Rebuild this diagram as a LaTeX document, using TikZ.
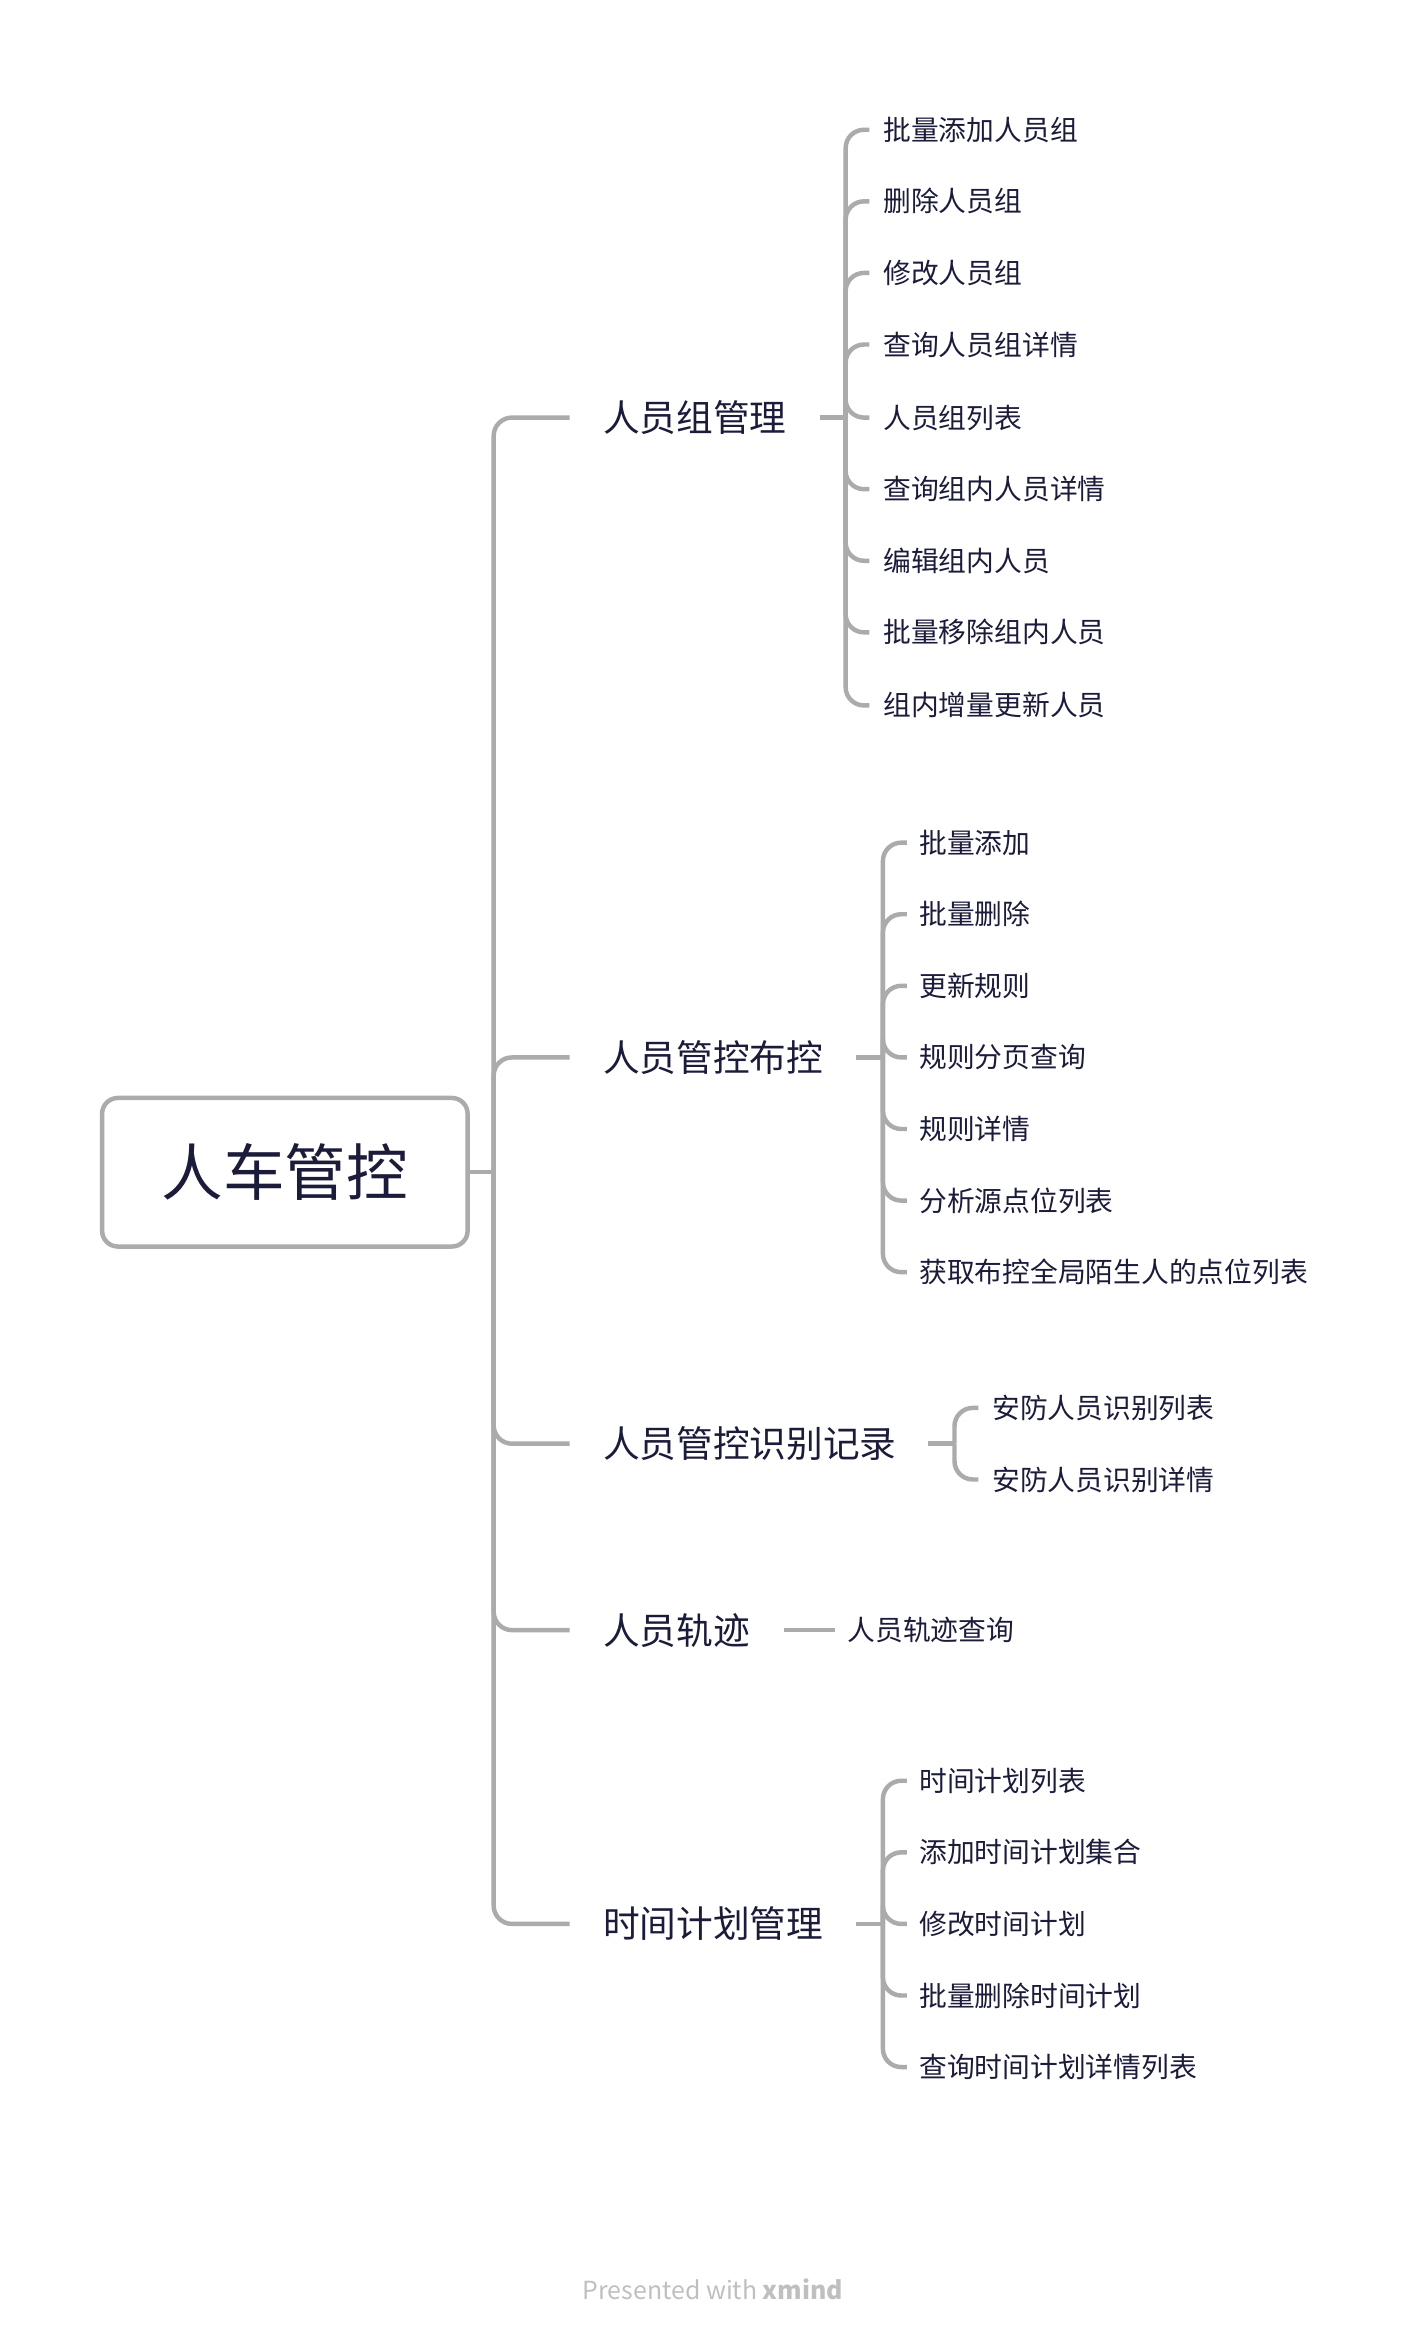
\documentclass[tikz,border=0pt]{standalone}
\usepackage{fontspec}
\setmainfont{Noto Sans CJK SC}
\usetikzlibrary{positioning}
\definecolor{txt}{HTML}{1B1B3A}
\definecolor{ln}{HTML}{ABABAB}
\tikzset{
  conn/.style={draw=ln, line width=1.7pt, rounded corners=7pt},
  topic/.style={anchor=west, inner sep=0pt, text=txt, font=\fontsize{14}{16}\selectfont},
  leaf/.style={anchor=west, inner sep=0pt, text=txt, font=\fontsize{10.6}{12}\selectfont},
}
\begin{document}
\begin{tikzpicture}[x=0.02cm, y=-0.02cm]
\useasboundingbox (0,0) rectangle (955,1569);

% central topic
\node[draw=ln, line width=1.7pt, rounded corners=6pt, minimum width=246*0.567pt,
      minimum height=100*0.567pt, text=txt, font=\fontsize{23.5}{26}\selectfont]
      (root) at (191,786) {人车管控};
\coordinate (trunk) at (331,786);
\draw[conn] (root.east) -- (trunk);

% main topics
\node[topic] (t1) at (404,280)  {人员组管理};
\node[topic] (t2) at (404,709)  {人员管控布控};
\node[topic] (t3) at (404,968)  {人员管控识别记录};
\node[topic] (t4) at (404,1093) {人员轨迹};
\node[topic] (t5) at (404,1290) {时间计划管理};
\foreach \t/\y in {t1/280,t2/709,t3/968,t4/1093,t5/1290}{
  \coordinate (\t e) at (382,\y);
  \draw[conn] (trunk) |- (\t e);
}

% group 1
\coordinate (g1s) at (550,280);
\coordinate (g1v) at (567,280);
\draw[conn] (g1s) -- (g1v);
\foreach \n/\y/\s in {1/87/批量添加人员组,2/135/删除人员组,3/183/修改人员组,4/231/查询人员组详情,
  5/280/人员组列表,6/328/查询组内人员详情,7/376/编辑组内人员,8/424/批量移除组内人员,9/473/组内增量更新人员}{
  \node[leaf] (a\n) at (592,\y) {\s};
  \coordinate (a\n e) at (583,\y);
  \draw[conn] (g1v) |- (a\n e);
}

% group 2
\coordinate (g2s) at (574,709);
\coordinate (g2v) at (592,709);
\draw[conn] (g2s) -- (g2v);
\foreach \n/\y/\s in {1/565/批量添加,2/613/批量删除,3/661/更新规则,4/709/规则分页查询,
  5/757/规则详情,6/805/分析源点位列表,7/853/获取布控全局陌生人的点位列表}{
  \node[leaf] (b\n) at (616,\y) {\s};
  \coordinate (b\n e) at (608,\y);
  \draw[conn] (g2v) |- (b\n e);
}

% group 3
\coordinate (g3s) at (622,968);
\coordinate (g3v) at (640,968);
\draw[conn] (g3s) -- (g3v);
\foreach \n/\y/\s in {1/944/安防人员识别列表,2/992/安防人员识别详情}{
  \node[leaf] (c\n) at (665,\y) {\s};
  \coordinate (c\n e) at (656,\y);
  \draw[conn] (g3v) |- (c\n e);
}

% group 4
\node[leaf] (d1) at (568,1093) {人员轨迹查询};
\coordinate (g4s) at (526,1093);
\coordinate (d1e) at (560,1093);
\draw[conn] (g4s) -- (d1e);

% group 5
\coordinate (g5s) at (574,1290);
\coordinate (g5v) at (592,1290);
\draw[conn] (g5s) -- (g5v);
\foreach \n/\y/\s in {1/1194/时间计划列表,2/1242/添加时间计划集合,3/1290/修改时间计划,
  4/1338/批量删除时间计划,5/1386/查询时间计划详情列表}{
  \node[leaf] (e\n) at (616,\y) {\s};
  \coordinate (e\n e) at (608,\y);
  \draw[conn] (g5v) |- (e\n e);
}

\node[text=black!25, font=\fontsize{9.5}{11}\selectfont] (mark) at (478,1535) {Presented with \textbf{xmind}};
\end{tikzpicture}
\end{document}
